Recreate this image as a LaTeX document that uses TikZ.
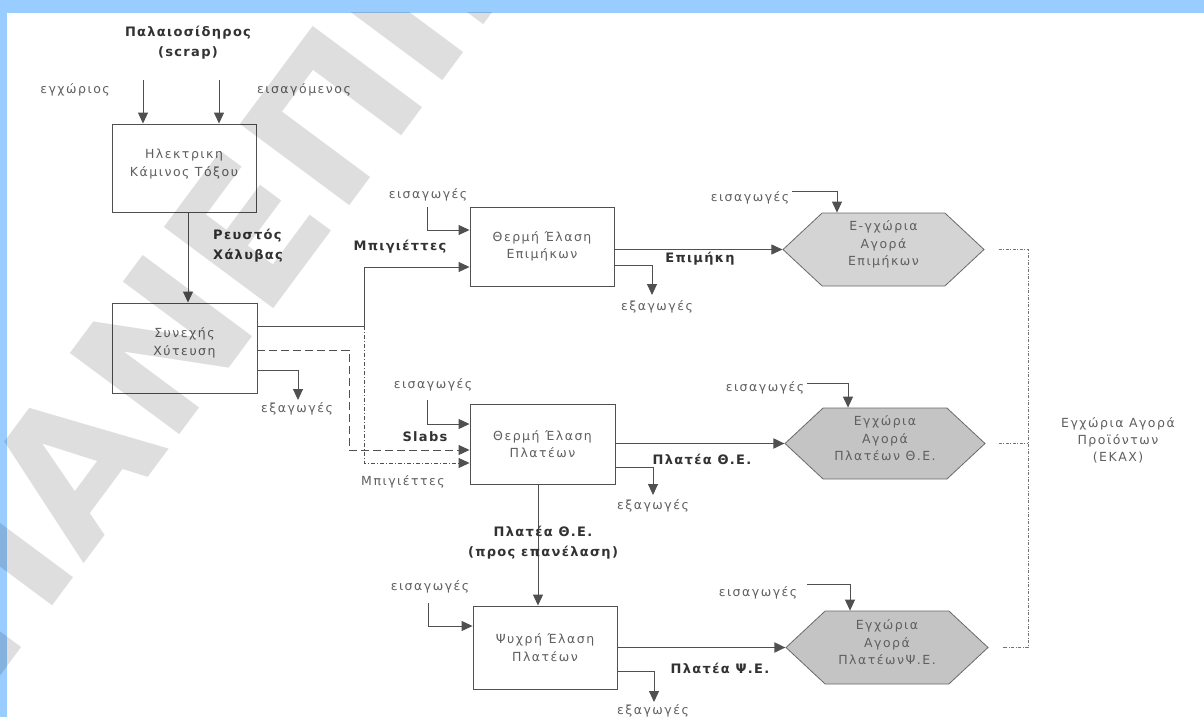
\documentclass[tikz,border=0pt]{standalone}
\usepackage{fontspec}
\usetikzlibrary{arrows.meta,shapes.symbols}
\newfontfamily\lblfont{DejaVu Sans}[LetterSpace=12]
\newfontfamily\blfont{DejaVu Sans}[LetterSpace=10]
\newfontfamily\wmfont{DejaVu Sans}
\definecolor{bandblue}{RGB}{153,204,255}
\definecolor{ink}{RGB}{80,80,80}
\definecolor{txt}{RGB}{95,95,95}
\definecolor{btxt}{RGB}{50,50,50}
\definecolor{hexA}{RGB}{212,212,212}
\definecolor{hexB}{RGB}{196,196,196}
\tikzset{
  ln/.style={draw=ink, line width=0.9pt},
  arr/.style={ln, -{Triangle[length=11pt,width=10pt]}},
  thickarr/.style={draw=ink, line width=1.8pt, -{Triangle[length=11pt,width=10pt]}},
  dashln/.style={arr, dash pattern=on 8pt off 4pt},
  dotln/.style={arr, dash pattern=on 4pt off 2pt on 1pt off 2pt},
  fineln/.style={draw=ink!80, line width=0.8pt, dash pattern=on 3pt off 1.5pt on 1pt off 1.5pt},
  boxnode/.style={draw=ink, line width=0.9pt},
  hexnode/.style={signal, signal to=east and west, signal pointer angle=86,
     draw=ink!85, line width=0.8pt, inner sep=0pt},
  lbl/.style={inner sep=0pt, text=txt, align=center, font=\lblfont\fontsize{12.5}{17}\selectfont},
  boxtxt/.style={lbl, font=\lblfont\fontsize{12.5}{17.5}\selectfont},
  blbl/.style={inner sep=0pt, text=btxt, align=center, font=\blfont\bfseries\fontsize{13}{20}\selectfont},
  wmark/.style={inner sep=0pt, text=black, opacity=0.13, font=\wmfont\bfseries\fontsize{187}{190}\selectfont},
}
\begin{document}
\begin{tikzpicture}[x=1pt,y=-1pt]
\useasboundingbox (0,0) rectangle (1204,717);
\fill[white] (0,0) rectangle (1204,717);
\fill[bandblue] (0,0) rectangle (1204,13);
\fill[bandblue] (0,0) rectangle (7,717);

% boxes
\node[boxnode, minimum width=144pt, minimum height=88pt] (eaf) at (184,168) {};
\node[boxtxt] (eaft) at ([yshift=4pt]eaf.center) {Ηλεκτρικη\\Κάμινος Τόξου};
\node[boxnode, minimum width=145pt, minimum height=90pt] (cc) at (184.5,348) {};
\node[boxtxt] (cct) at ([yshift=5pt]cc.center) {Συνεχής\\Χύτευση};
\node[boxnode, minimum width=144pt, minimum height=79pt] (hrl) at (542,246.5) {};
\node[boxtxt] (hrlt) at (hrl.center) {Θερμή Έλαση\\Επιμήκων};
\node[boxnode, minimum width=145pt, minimum height=80pt] (hrf) at (542.5,444) {};
\node[boxtxt] (hrft) at (hrf.center) {Θερμή Έλαση\\Πλατέων};
\node[boxnode, minimum width=144pt, minimum height=83pt] (crf) at (545,647.5) {};
\node[boxtxt] (crft) at (crf.center) {Ψυχρή Έλαση\\Πλατέων};

% hexagons
\node[hexnode, fill=hexA, minimum width=201pt, minimum height=73pt] (hx1) at (883.5,249.5) {};
\node[boxtxt] (hx1t) at ([yshift=5pt]hx1.center) {Ε-γχώρια\\Αγορά\\Επιμήκων};
\node[hexnode, fill=hexB, minimum width=200pt, minimum height=71pt] (hx2) at (885,443.5) {};
\node[boxtxt] (hx2t) at ([yshift=5pt]hx2.center) {Εγχώρια\\Αγορά\\Πλατέων Θ.Ε.};
\node[hexnode, fill=hexB, minimum width=202pt, minimum height=73pt] (hx3) at (887,647.5) {};
\node[boxtxt] (hx3t) at ([yshift=5pt]hx3.center) {Εγχώρια\\Αγορά\\ΠλατέωνΨ.Ε.};

% top labels
\node[blbl] (scrap) at (188,42.5) {Παλαιοσίδηρος\\(scrap)};
\node[lbl] (local) at (75,90) {εγχώριος};
\node[lbl] (imp) at (304,90) {εισαγόμενος};
\coordinate (in1) at (143,80);
\coordinate (in2) at (219,80);
\draw[arr] (in1) -- (in1 |- eaf.north);
\draw[arr] (in2) -- (in2 |- eaf.north);

% eaf -> cc
\coordinate (sx) at (188,0);
\draw[arr] (sx |- eaf.south) -- (sx |- cc.north);
\node[blbl, anchor=north west, align=left] (steel) at (213,229) {Ρευστός\\Χάλυβας};

% cc outputs
\coordinate (j1) at (364,326);
\coordinate (hy1) at (0,267);
\draw[arr] (cc.east |- j1) -- (j1) |- (hrl.west |- hy1);
\coordinate (d1) at (349,350);
\coordinate (hy2) at (0,450);
\draw[dashln] (cc.east |- d1) -- (d1) |- (hrf.west |- hy2);
\coordinate (hy3) at (0,463);
\draw[dotln] (j1) |- (hrf.west |- hy3);
\coordinate (e1) at (298,370);
\coordinate (e1b) at (298,400);
\draw[arr] (cc.east |- e1) -- (e1) -- (e1b);
\node[lbl] (ex1) at (297,409) {εξαγωγές};

% hot rolling long
\node[lbl] (im1) at (428,195) {εισαγωγές};
\coordinate (i1) at (427,207);
\coordinate (hy4) at (0,230);
\draw[arr] (i1) |- (hrl.west |- hy4);
\node[blbl] (bil1) at (400,247) {Μπιγιέττες};
\draw[arr] (hrl.east |- hx1.west) -- (hx1.west);
\node[blbl] (long) at (700,259) {Επιμήκη};
\coordinate (e2) at (652,265);
\coordinate (e2b) at (652,295);
\draw[arr] (hrl.east |- e2) -- (e2) -- (e2b);
\node[lbl] (ex2) at (657,307) {εξαγωγές};

% hex1 input
\node[lbl] (im2) at (750,198) {εισαγωγές};
\coordinate (h1a) at (792,191);
\coordinate (h1b) at (837,191);
\draw[arr] (h1a) -- (h1b) -- (h1b |- hx1.north);

% hot rolling flat
\node[lbl] (im3) at (433,385) {εισαγωγές};
\coordinate (i3) at (427,400);
\coordinate (hy5) at (0,424);
\draw[arr] (i3) |- (hrf.west |- hy5);
\node[blbl] (slabs) at (425,437) {Slabs};
\node[lbl] (bil2) at (403,482) {Μπιγιέττες};
\draw[thickarr] (hrf.east |- hx2.west) -- (hx2.west);
\node[blbl] (flat1) at (702,459) {Πλατέα Θ.Ε.};
\coordinate (e3) at (653,467);
\coordinate (e3b) at (653,495);
\draw[arr] (hrf.east |- e3) -- (e3) -- (e3b);
\node[lbl] (ex3) at (653,506) {εξαγωγές};

% hrf -> crf
\coordinate (vx) at (538,0);
\draw[arr] (vx |- hrf.south) -- (vx |- crf.north);
\node[blbl] (reroll) at (543,542.5) {Πλατέα Θ.Ε.\\(προς επανέλαση)};

% hex2 input
\node[lbl] (im4) at (765,388) {εισαγωγές};
\coordinate (h2a) at (807,383);
\coordinate (h2b) at (848,383);
\draw[arr] (h2a) -- (h2b) -- (h2b |- hx2.north);

% cold rolling
\node[lbl] (im5) at (430,587) {εισαγωγές};
\coordinate (i5) at (428,603);
\coordinate (hy6) at (0,626);
\draw[arr] (i5) |- (crf.west |- hy6);
\draw[thickarr] (crf.east |- hx3.west) -- (hx3.west);
\node[blbl] (flat2) at (720,668) {Πλατέα Ψ.Ε.};
\coordinate (e4) at (654,671);
\coordinate (e4b) at (654,702);
\draw[arr] (crf.east |- e4) -- (e4) -- (e4b);
\node[lbl] (ex4) at (653,711) {εξαγωγές};

% hex3 input
\node[lbl] (im6) at (758,593) {εισαγωγές};
\coordinate (h3a) at (807,584);
\coordinate (h3b) at (850,584);
\draw[arr] (h3a) -- (h3b) -- (h3b |- hx3.north);

% market bracket
\coordinate (m1) at (1028,249.5);
\coordinate (m2) at (1028,443.5);
\coordinate (m3) at (1028,647.5);
\draw[fineln] ([xshift=14pt]hx1.east) -- (m1) -- (m3) -- ([xshift=14pt]hx3.east);
\draw[fineln] ([xshift=13pt]hx2.east) -- (m2);
\node[lbl] (mkt) at (1118,440) {Εγχώρια Αγορά\\Προϊόντων\\(ΕΚΑΧ)};

% watermark
\begin{scope}
\clip (0,13) rectangle (1204,717);
\node[wmark, anchor=base west, rotate=53.4] (wm) at (-10,690) {ΠΑΝΕΠΙΣΤΗΜΙΟ};
\end{scope}
\end{tikzpicture}
\end{document}
